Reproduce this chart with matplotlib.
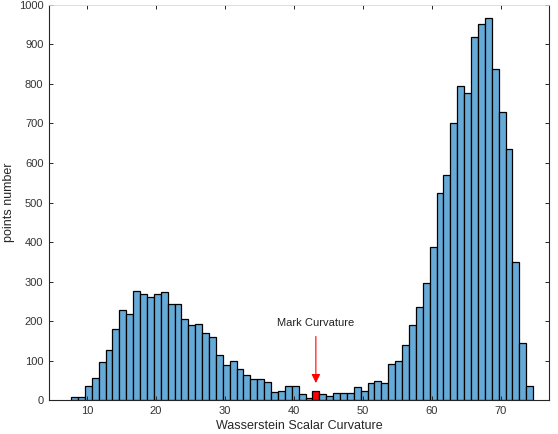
import numpy as np
import matplotlib

matplotlib.use("Agg")
import matplotlib.pyplot as plt

# histogram counts, one per unit-wide bin starting at 7.7
counts = [
    8, 7, 35, 55, 95, 127, 179, 228, 217, 275,
    268, 260, 268, 273, 242, 242, 204, 189, 192, 169,
    159, 113, 88, 98, 79, 63, 52, 52, 46, 20,
    24, 35, 35, 16, 5, 24, 14, 9, 19, 17,
    19, 33, 23, 42, 47, 43, 90, 98, 139, 189,
    235, 296, 388, 525, 570, 701, 794, 776, 918, 951,
    966, 837, 729, 635, 350, 144, 35,
]
first_edge = 7.7
bin_width = 1.0
mark_bin = 35  # the red bar

xticks = [10, 20, 30, 40, 50, 60, 70]
yticks = [0, 100, 200, 300, 400, 500, 600, 700, 800, 900, 1000]

xlabel = "Wasserstein Scalar Curvature"
ylabel = "points number"
mark_text = "Mark Curvature"


def main():
    plt.rcParams["font.family"] = ["Liberation Sans", "DejaVu Sans"]

    fig = plt.figure(figsize=(5.58, 4.34), dpi=100)
    ax = fig.add_axes([0.0878, 0.0783, 0.896, 0.9102])

    edges = first_edge + bin_width * np.arange(len(counts) + 1)
    cols = ["#66aad7"] * len(counts)
    cols[mark_bin] = "#ff0000"
    ax.bar(
        edges[:-1],
        counts,
        width=bin_width,
        align="edge",
        color=cols,
        edgecolor="black",
        linewidth=0.9,
    )

    # arrow pointing at the marked bin
    xm = edges[mark_bin] + bin_width / 2
    ax.annotate(
        "",
        xy=(xm, 36),
        xytext=(xm, 168),
        arrowprops=dict(arrowstyle="-|>", color="red", lw=0.8, mutation_scale=13),
    )
    ax.text(xm, 195, mark_text, ha="center", va="center", fontsize=8, color="#222222")

    ax.set_xlim(4.5, 77)
    ax.set_ylim(0, 1000)
    ax.set_xticks(xticks)
    ax.set_yticks(yticks)
    ax.tick_params(
        direction="in",
        top=True,
        right=True,
        length=3,
        width=0.7,
        labelsize=8,
        labelcolor="#333333",
        color="#262626",
        pad=4,
    )

    for s in ["left", "bottom", "right"]:
        ax.spines[s].set_color("#262626")
        ax.spines[s].set_linewidth(0.8)
    ax.spines["top"].set_color("#d8d8d8")
    ax.spines["top"].set_linewidth(0.6)

    ax.set_xlabel(xlabel, fontsize=9, color="#262626", labelpad=3)
    ax.set_ylabel(ylabel, fontsize=9, color="#262626")
    ax.yaxis.set_label_coords(-0.068, 0.5)

    fig.savefig("out.png", dpi=100)
    plt.close()


main()
